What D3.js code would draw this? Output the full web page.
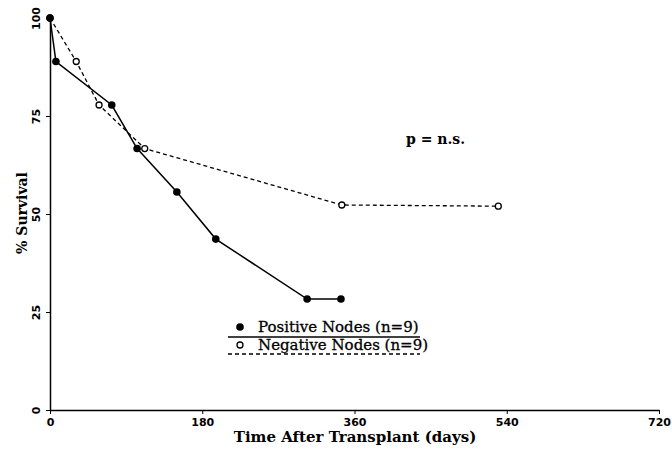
<!DOCTYPE html>
<html>
<head>
<meta charset="utf-8">
<script src="https://cdn.jsdelivr.net/npm/d3@7"></script>
<style>
  body { margin: 0; background: #fff; }
  svg { display: block; }
</style>
</head>
<body>
<div id="chart"></div>
<script>
// Data
// -------------------
let pos_days = [0, 7, 73, 103, 150, 196, 304, 344];
let pos_surv = [100, 88.9, 77.8, 66.7, 55.6, 43.6, 28.3, 28.3];

let neg_days = [0, 31, 58, 112, 345, 530];
let neg_surv = [100, 88.9, 77.8, 66.7, 52.3, 52.0];

let x_ticks = [0, 180, 360, 540, 720];
let y_ticks = [0, 25, 50, 75, 100];
// -------------------

let width = 672;
let height = 449;
let serif = "'DejaVu Serif', 'Liberation Serif', serif";
let sans = "'DejaVu Sans', 'Liberation Sans', sans-serif";

let svg_obj = d3.select("#chart")
                .append("svg")
                  .attr("width", width)
                  .attr("height", height);

let x_scale = d3.scaleLinear().domain([0, 720]).range([50, 659]);
let y_scale = d3.scaleLinear().domain([0, 100]).range([410, 18]);

// Axes
// -------------------
let x_axis = svg_obj.append("g")
   .attr("transform", "translate(0," + y_scale(0) + ")")
   .call(d3.axisBottom(x_scale).tickValues(x_ticks).tickSize(4).tickSizeOuter(0).tickPadding(4));
x_axis.select(".domain").attr("stroke", "#000").attr("stroke-width", 1.5);
x_axis.selectAll("text")
   .attr("font-family", sans)
   .attr("font-weight", "bold")
   .attr("font-size", 11)
   .attr("fill", "#000");

let y_axis = svg_obj.append("g")
   .attr("transform", "translate(" + x_scale(0) + ",0)")
   .call(d3.axisLeft(y_scale).tickValues(y_ticks).tickSize(4).tickSizeOuter(0));
y_axis.select(".domain").attr("stroke", "#000").attr("stroke-width", 1.5);
y_axis.selectAll(".tick text")
   .attr("font-family", sans)
   .attr("font-weight", "bold")
   .attr("font-size", 11)
   .attr("fill", "#000")
   .attr("text-anchor", "middle")
   .attr("dy", 0)
   .attr("x", 0)
   .attr("transform", "translate(-10,0) rotate(-90)");

// Axis titles
svg_obj.append("text")
   .attr("x", 355)
   .attr("y", 442)
   .attr("text-anchor", "middle")
   .attr("font-family", serif)
   .attr("font-weight", "bold")
   .attr("font-size", 15)
   .text("Time After Transplant (days)");

svg_obj.append("text")
   .attr("transform", "translate(27,213) rotate(-90)")
   .attr("text-anchor", "middle")
   .attr("font-family", serif)
   .attr("font-weight", "bold")
   .attr("font-size", 14)
   .text("% Survival");
// -------------------

// Lines
// -------------------
let pos_data = pos_days.map((d, i) => [d, pos_surv[i]]);
let neg_data = neg_days.map((d, i) => [d, neg_surv[i]]);

let line_gen = d3.line()
   .x(d => x_scale(d[0]))
   .y(d => y_scale(d[1]));

svg_obj.append("path")
   .attr("d", line_gen(neg_data))
   .attr("fill", "none")
   .attr("stroke", "#000")
   .attr("stroke-width", 1.3)
   .attr("stroke-dasharray", "4,3");

svg_obj.append("path")
   .attr("d", line_gen(pos_data))
   .attr("fill", "none")
   .attr("stroke", "#000")
   .attr("stroke-width", 1.5);

svg_obj.selectAll(".neg_pt")
   .data(neg_data)
   .join("circle")
   .attr("cx", d => x_scale(d[0]))
   .attr("cy", d => y_scale(d[1]))
   .attr("r", 3)
   .attr("fill", "#fff")
   .attr("stroke", "#000")
   .attr("stroke-width", 1.3);

svg_obj.selectAll(".pos_pt")
   .data(pos_data)
   .join("circle")
   .attr("cx", d => x_scale(d[0]))
   .attr("cy", d => y_scale(d[1]))
   .attr("r", 3.8)
   .attr("fill", "#000");
// -------------------

// Annotation
svg_obj.append("text")
   .attr("x", 406)
   .attr("y", 144)
   .attr("font-family", serif)
   .attr("font-weight", "bold")
   .attr("font-size", 14)
   .text("p = n.s.");

// Legend
// -------------------
let legend_g = svg_obj.append("g");

legend_g.append("circle")
   .attr("cx", 240).attr("cy", 327).attr("r", 3.8).attr("fill", "#000");
legend_g.append("text")
   .attr("x", 258).attr("y", 332)
   .attr("font-family", serif).attr("font-size", 15)
   .attr("stroke", "#000").attr("stroke-width", 0.3)
   .text("Positive Nodes (n=9)");
legend_g.append("line")
   .attr("x1", 228).attr("x2", 420).attr("y1", 337).attr("y2", 337)
   .attr("stroke", "#000").attr("stroke-width", 1.5);

legend_g.append("circle")
   .attr("cx", 240).attr("cy", 345).attr("r", 3).attr("fill", "#fff")
   .attr("stroke", "#000").attr("stroke-width", 1.3);
legend_g.append("text")
   .attr("x", 258).attr("y", 350)
   .attr("font-family", serif).attr("font-size", 15)
   .attr("stroke", "#000").attr("stroke-width", 0.3)
   .text("Negative Nodes (n=9)");
legend_g.append("line")
   .attr("x1", 228).attr("x2", 420).attr("y1", 354).attr("y2", 354)
   .attr("stroke", "#000").attr("stroke-width", 1.3)
   .attr("stroke-dasharray", "4,3");
// -------------------
</script>
</body>
</html>
